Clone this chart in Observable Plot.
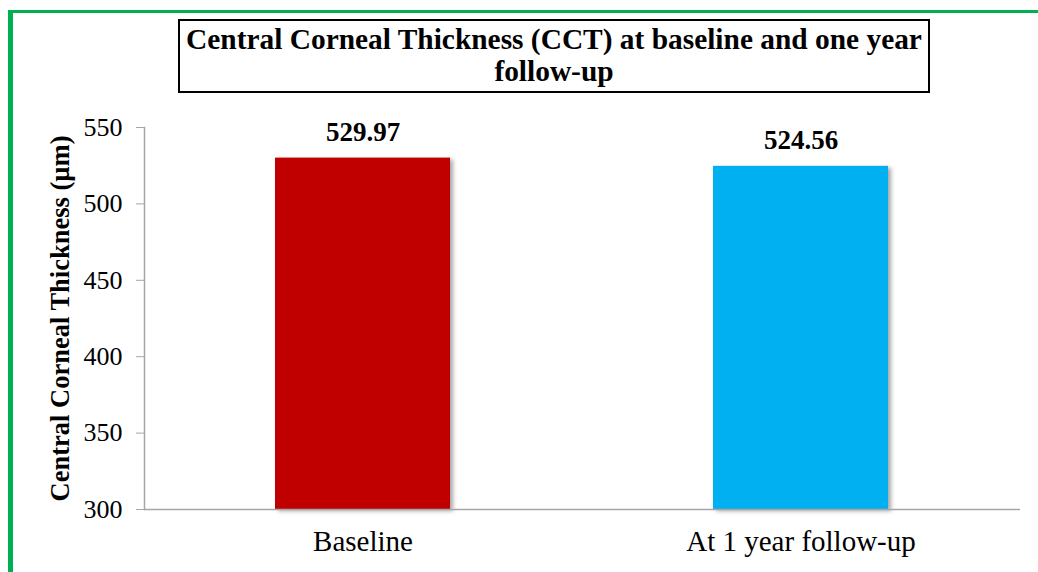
<!DOCTYPE html>
<html>
<head>
<meta charset="utf-8">
<script src="https://cdn.jsdelivr.net/npm/d3@7"></script>
<script src="https://cdn.jsdelivr.net/npm/@observablehq/plot@0.6"></script>
<style>
  html, body { margin: 0; padding: 0; background: #fff; }
  #wrap { position: relative; width: 1038px; height: 572px; overflow: hidden; font-family: "Liberation Serif", "Times New Roman", serif; }
  #green { position: absolute; left: 8px; top: 10px; width: 1100px; height: 700px; border-left: 5px solid #00B050; border-top: 3px solid #00B050; box-sizing: border-box; }
  #head { position: relative; height: 100px; }
  #title { position: absolute; left: 178px; top: 19px; width: 752px; height: 74px; box-sizing: border-box; border: 2px solid #000; text-align: center; font-weight: bold; font-size: 29.4px; line-height: 32px; padding-top: 2px; color: #000; white-space: nowrap; }
  #chart { position: relative; }
  g[aria-label="bar"] rect { filter: drop-shadow(3px 2px 2px rgba(0,0,0,0.35)); }
</style>
</head>
<body>
<div id="wrap">
  <div id="green"></div>
  <div id="head"><div id="title">Central Corneal Thickness (CCT) at baseline and one year<br>follow-up</div></div>
  <div id="chart"></div>
</div>
<script>
const categories = ["Baseline", "At 1 year follow-up"];
const values = [529.97, 524.56];
const colors = ["#C00000", "#00B0F0"];
const yTicks = [300, 350, 400, 450, 500, 550];
const yLabel = "Central Corneal Thickness (µm)";

const data = categories.map((c, i) => ({cat: c, value: values[i], color: colors[i]}));

const plot = Plot.plot({
  width: 1038,
  height: 472,
  marginLeft: 144,
  marginRight: 18,
  marginTop: 27,
  marginBottom: 63,
  style: {fontFamily: "Liberation Serif, Times New Roman, serif", fontSize: "26px", color: "#000", background: "transparent", overflow: "visible"},
  x: {domain: categories, paddingInner: 0.6, paddingOuter: 0.3, label: null},
  y: {domain: [yTicks[0], yTicks[yTicks.length - 1]], label: null},
  marks: [
    Plot.barY(data, {x: "cat", y1: yTicks[0], y2: "value", fill: "color"}),
    Plot.ruleY([yTicks[0]], {stroke: "#A6A6A6", strokeWidth: 1.5}),
    Plot.frame({anchor: "left", stroke: "#A6A6A6", strokeWidth: 1.5}),
    Plot.axisY({ticks: yTicks, tickSize: 8, tickPadding: 14, stroke: "#A6A6A6", fill: "#000", fontSize: 26, label: null}),
    Plot.axisX({tickSize: 0, tickPadding: 21, fontSize: 29, fill: "#000", label: null}),
    Plot.text(data, {x: "cat", y: "value", text: d => d.value.toFixed(2), dy: -17, lineAnchor: "bottom", fontWeight: "bold", fontSize: 27, fill: "#000"}),
    Plot.text([yLabel], {frameAnchor: "left", rotate: -90, dx: -84, textAnchor: "middle", lineAnchor: "middle", fontWeight: "bold", fontSize: 26.5, fill: "#000"})
  ]
});
document.getElementById("chart").appendChild(plot);
</script>
</body>
</html>
